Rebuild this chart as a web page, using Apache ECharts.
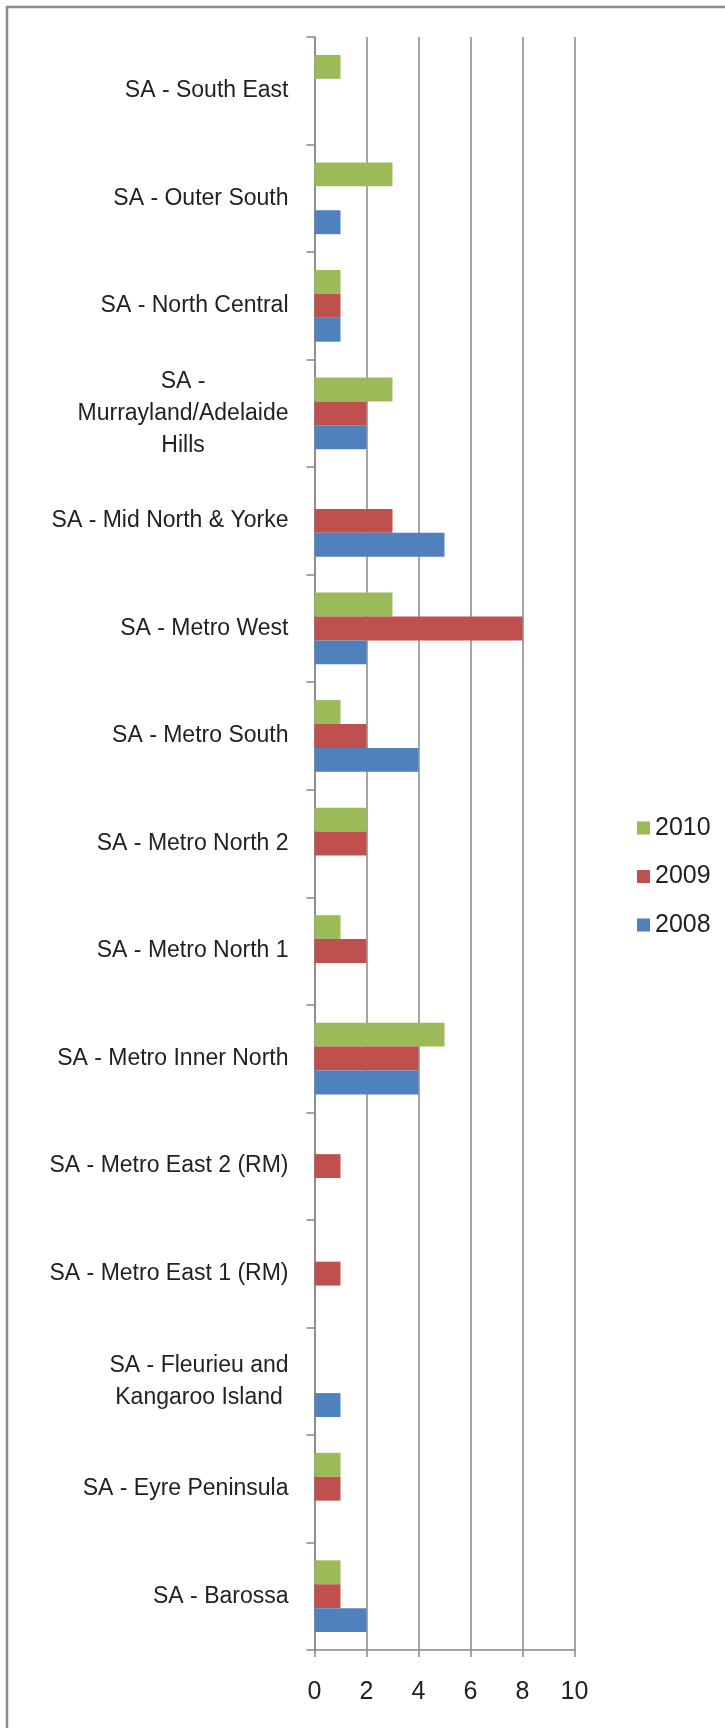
<!DOCTYPE html>
<html>
<head>
<meta charset="utf-8">
<style>
  html, body { margin: 0; padding: 0; background: #ffffff; }
  #chart { width: 725px; height: 1728px; }
</style>
<script src="https://cdn.jsdelivr.net/npm/echarts@6/dist/echarts.min.js"></script>
</head>
<body>
<div id="chart"></div>
<script>
// Categories listed bottom to top (ECharts category y-axis starts at the bottom)
const categories = [
  'SA - Barossa',
  'SA - Eyre Peninsula',
  'SA - Fleurieu and\nKangaroo Island',
  'SA - Metro East 1 (RM)',
  'SA - Metro East 2 (RM)',
  'SA - Metro Inner North',
  'SA - Metro North 1',
  'SA - Metro North 2',
  'SA - Metro South',
  'SA - Metro West',
  'SA - Mid North & Yorke',
  'SA -\nMurrayland/Adelaide\nHills',
  'SA - North Central',
  'SA - Outer South',
  'SA - South East'
];
const values2008 = [2, 0, 1, 0, 0, 4, 0, 0, 4, 2, 5, 2, 1, 1, 0];
const values2009 = [1, 1, 0, 1, 1, 4, 2, 2, 2, 8, 3, 2, 1, 0, 0];
const values2010 = [1, 1, 0, 0, 0, 5, 1, 2, 1, 3, 0, 3, 1, 3, 1];
const xTicks = [0, 2, 4, 6, 8, 10];

const FONT = "'Liberation Sans', Arial, sans-serif";
const GRAY = '#878787';

const chart = echarts.init(document.getElementById('chart'), null, { renderer: 'canvas' });

const mk = (name, data, color) => ({
  name: name,
  type: 'bar',
  data: data,
  barCategoryGap: '33.3%',
  barGap: '0%',
  itemStyle: { color: color },
  emphasis: { disabled: true },
  animation: false
});

chart.setOption({
  animation: false,
  backgroundColor: '#ffffff',
  textStyle: { fontFamily: FONT },
  graphic: [{
    type: 'rect',
    shape: { x: 7, y: 7, width: 800, height: 1800 },
    style: { fill: 'none', stroke: '#8a8a8a', lineWidth: 2.5 },
    silent: true,
    z: 100
  }],
  grid: { left: 314.5, right: 150.5, top: 37, bottom: 78 },
  legend: {
    orient: 'vertical',
    left: 632,
    top: 810,
    data: ['2010', '2009', '2008'],
    icon: 'rect',
    itemWidth: 13,
    itemHeight: 13,
    itemGap: 22.5,
    textStyle: { fontFamily: FONT, fontSize: 25, color: '#222', lineHeight: 26, padding: [0, 0, 0, 0] },
    selectedMode: false
  },
  xAxis: {
    type: 'value',
    min: xTicks[0],
    max: xTicks[xTicks.length - 1],
    interval: 2,
    axisLine: { show: true, lineStyle: { color: GRAY, width: 1.5 } },
    axisTick: { show: true, length: 7, lineStyle: { color: GRAY, width: 1.5 } },
    splitLine: { show: true, lineStyle: { color: GRAY, width: 1.5 } },
    axisLabel: { fontFamily: FONT, fontSize: 25, color: '#222', margin: 30 }
  },
  yAxis: {
    type: 'category',
    data: categories,
    axisLine: { show: true, lineStyle: { color: GRAY, width: 1.5 } },
    axisTick: { show: true, length: 8, lineStyle: { color: GRAY, width: 1.5 } },
    splitLine: { show: false },
    axisLabel: {
      margin: 26,
      interval: 0,
      fontFamily: FONT,
      fontSize: 23,
      color: '#222',
      formatter: function (v) {
        return v.split('\n').map(function (l) { return '{c|' + l + '}'; }).join('\n');
      },
      rich: {
        c: { align: 'center', fontFamily: FONT, fontSize: 23, color: '#222', lineHeight: 32 }
      }
    }
  },
  series: [
    mk('2010', values2010, '#9BBB59'),
    mk('2009', values2009, '#C0504D'),
    mk('2008', values2008, '#4F81BD')
  ]
});
</script>
</body>
</html>
